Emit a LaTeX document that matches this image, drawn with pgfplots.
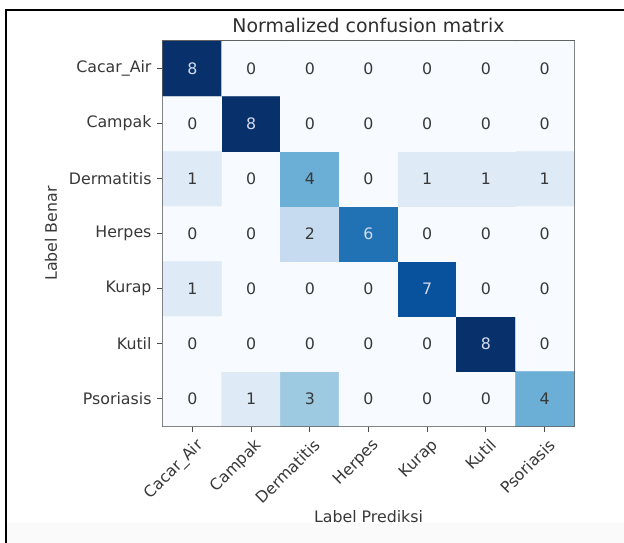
\documentclass[border=0pt]{standalone}
\usepackage{pgfplots}
\usepackage{pgfplotstable}
\pgfplotsset{compat=1.18}
\usepackage{fontspec}
\setmainfont{DejaVu Sans}
\newcommand\lbl{\fontsize{15.8bp}{18bp}\selectfont}
\newcommand\ttl{\fontsize{18.9bp}{22bp}\selectfont}
\definecolor{lighttxt}{RGB}{210,218,236}
\pgfplotstableread{
x y v
0 0 0
1 0 1
2 0 3
3 0 0
4 0 0
5 0 0
6 0 4
0 1 0
1 1 0
2 1 0
3 1 0
4 1 0
5 1 8
6 1 0
0 2 1
1 2 0
2 2 0
3 2 0
4 2 7
5 2 0
6 2 0
0 3 0
1 3 0
2 3 2
3 3 6
4 3 0
5 3 0
6 3 0
0 4 1
1 4 0
2 4 4
3 4 0
4 4 1
5 4 1
6 4 1
0 5 0
1 5 8
2 5 0
3 5 0
4 5 0
5 5 0
6 5 0
0 6 8
1 6 0
2 6 0
3 6 0
4 6 0
5 6 0
6 6 0
}\cm
\begin{document}
\begin{tikzpicture}
\useasboundingbox (-163bp,-117bp) rectangle (461bp,426bp);
\fill[white] (-163bp,-117bp) rectangle (461bp,426bp);
\fill[black!2] (-156bp,-117bp) rectangle (461bp,-97bp);
\draw[line width=1.6bp] (-157bp,-117bp) -- (-157bp,416bp) -- (461bp,416bp);
\begin{axis}[
  scale only axis, width=411bp, height=385bp,
  at={(0bp,0bp)}, anchor=south west,
  xmin=-0.5, xmax=6.5, ymin=-0.5, ymax=6.5,
  xtick={0,...,6}, ytick={0,...,6},
  xticklabels={Cacar\_Air,Campak,Dermatitis,Herpes,Kurap,Kutil,Psoriasis},
  yticklabels={Psoriasis,Kutil,Kurap,Herpes,Dermatitis,Campak,Cacar\_Air},
  tick align=outside, tick pos=left,
  major tick length=5.5bp,
  tick style={black!70, line width=1.1bp},
  axis line style={black!62, line width=1.3bp},
  ticklabel style={font=\lbl, text=black!78},
  xticklabel style={rotate=45, anchor=north east, yshift=-3bp, xshift=1bp},
  yticklabel style={xshift=-2.5bp},
  colormap={blues}{rgb255(0)=(247,251,255) rgb255(1)=(222,235,247) rgb255(2)=(198,219,239) rgb255(3)=(158,202,225) rgb255(4)=(107,174,214) rgb255(5)=(66,146,198) rgb255(6)=(33,113,181) rgb255(7)=(8,81,156) rgb255(8)=(8,48,107)},
  point meta min=0, point meta max=8,
  title={Normalized confusion matrix},
  title style={at={(axis description cs:0.5,1.0221)}, anchor=base, yshift=-6pt, font=\ttl, text=black!82},
  xlabel={Label Prediksi},
  xlabel style={at={(axis description cs:0.5,-0.2494)}, anchor=base, font=\lbl, text=black!78},
  ylabel={Label Benar},
  ylabel style={at={(axis description cs:-0.2579,0.5)}, anchor=base, font=\lbl, text=black!78},
]
\addplot[matrix plot*, mesh/cols=7, point meta=explicit] table[x=x, y=y, meta=v] {\cm};
\addplot[only marks, mark=none, point meta=explicit symbolic,
  nodes near coords={\ifnum\pgfplotspointmeta>4 \textcolor{lighttxt}{\pgfplotspointmeta}\else\textcolor{black!78}{\pgfplotspointmeta}\fi},
  nodes near coords align=center,
  every node near coord/.append style={font=\lbl, anchor=center}]
  table[x=x, y=y, meta=v] {\cm};
\end{axis}
\end{tikzpicture}
\end{document}
